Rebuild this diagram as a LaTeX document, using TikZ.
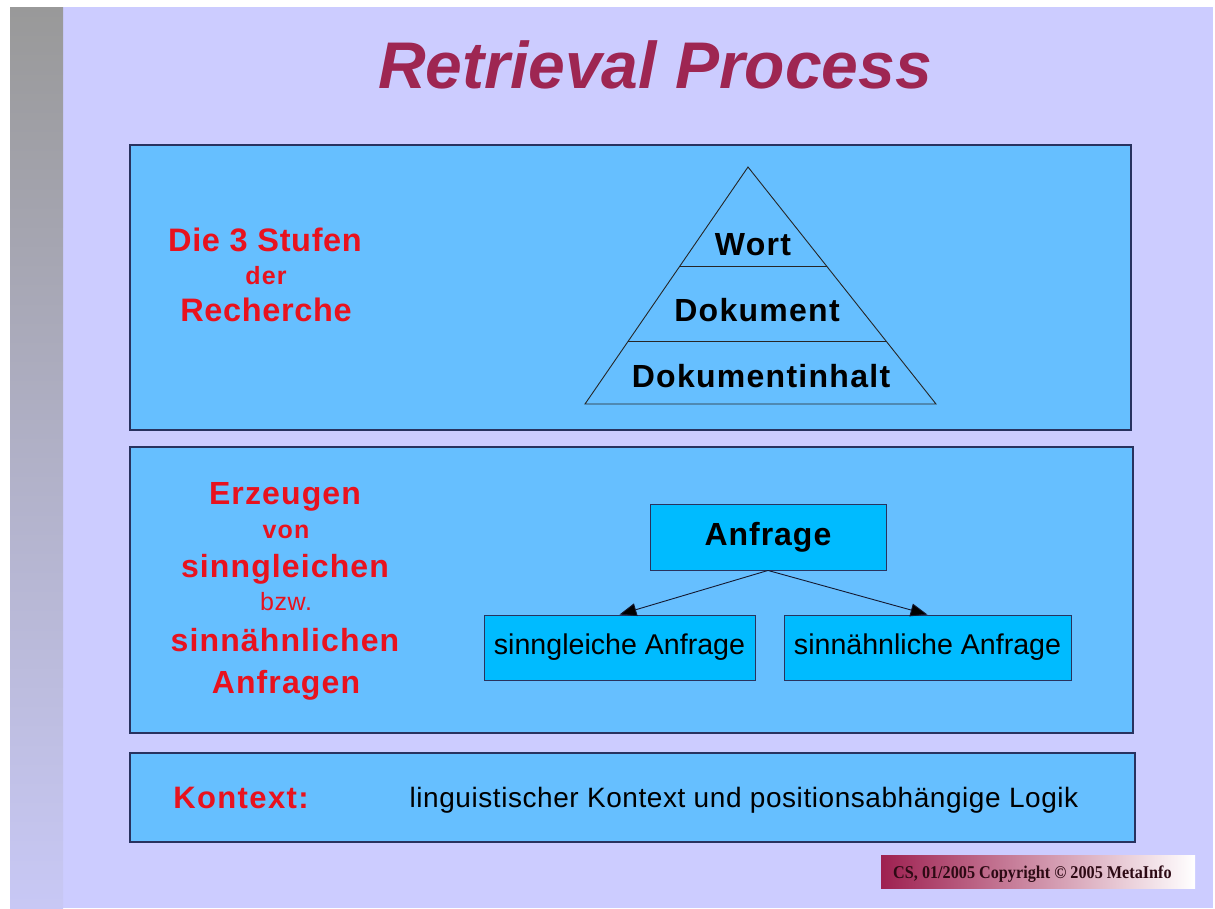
\documentclass[tikz,border=0pt]{standalone}
\usepackage{fontspec}
\setmainfont{Liberation Sans}
\newfontfamily\copyserif[FakeStretch=0.9]{Liberation Serif}
\usetikzlibrary{arrows.meta,calc}

\definecolor{slidebg}{RGB}{204,204,255}
\definecolor{barTop}{RGB}{153,153,153}
\definecolor{barBot}{RGB}{200,200,245}
\definecolor{panelfill}{RGB}{102,191,255}
\definecolor{boxfill}{RGB}{0,187,255}
\definecolor{panelline}{RGB}{40,50,95}
\definecolor{labelred}{RGB}{232,18,30}
\definecolor{titlered}{RGB}{158,38,82}
\definecolor{copyred}{RGB}{158,32,80}
\definecolor{copytext}{RGB}{45,10,20}

% tracked text: size, letter spacing
\newcommand{\trk}[2]{\fontsize{#1}{#1}\selectfont\addfontfeature{LetterSpace=#2}}

\tikzset{
  panel/.style={draw=panelline, fill=panelfill, line width=1.1pt},
  qbox/.style={draw=panelline, fill=boxfill, line width=0.9pt, inner sep=0pt},
  txt/.style={inner sep=0pt, anchor=base},
  redhead/.style={txt, text=labelred, font=\bfseries\trk{32.5}{2}},
  redbig/.style={txt, text=labelred, font=\bfseries\trk{32}{3.5}},
  redsmall/.style={txt, text=labelred, font=\bfseries\trk{25}{5}},
  pyr/.style={txt, font=\bfseries\trk{32}{4}},
  tier/.style={draw=black!85, line width=0.9pt},
  conn/.style={line width=0.9pt, draw=panelline!50!black, -{Triangle[length=17pt,width=13pt,fill=black]}},
}

\begin{document}
\begin{tikzpicture}[x=1pt,y=-1pt]
  % page and background
  \useasboundingbox (0,0) rectangle (1215,908);
  \fill[white] (0,0) rectangle (1215,908);
  \fill[slidebg] (10,7) rectangle (1213,908);
  \shade[top color=barTop, bottom color=barBot] (10,7) rectangle (63,908);

  % title
  \node[txt, text=titlered, font=\bfseries\itshape\fontsize{66}{66}\selectfont]
    (title) at (655,88) {Retrieval Process};

  % panels
  \draw[panel] (130,145) rectangle (1131,430);
  \draw[panel] (130,447) rectangle (1133,733);
  \draw[panel] (130,753) rectangle (1135,842);

  % panel 1: stages of search
  \node[redhead]  (s1) at (265,251) {Die 3 Stufen};
  \node[redsmall] (s2) at (266,284) {der};
  \node[redhead]  (s3) at (266,321) {Recherche};

  \coordinate (apex) at (748,167);
  \coordinate (bl) at (585,404);
  \coordinate (br) at (936,404);
  \draw[tier] (apex) -- (bl) -- (br) -- cycle;
  \draw[tier] ($(apex)!0.418!(bl)$) coordinate (l1a) -- ($(apex)!0.418!(br)$) coordinate (l1b);
  \draw[tier] ($(apex)!0.734!(bl)$) coordinate (l2a) -- ($(apex)!0.734!(br)$) coordinate (l2b);
  \node[pyr] (wort) at (753,255) {Wort};
  \node[pyr] (dok)  at (757,321) {Dokument};
  \node[pyr] (inh)  at (761,387) {Dokumentinhalt};

  % panel 2: query generation
  \node[redbig]   (e1) at (285,504) {Erzeugen};
  \node[redsmall] (e2) at (286,538) {von};
  \node[redbig]   (e3) at (285,577) {sinngleichen};
  \node[txt, text=labelred, font=\trk{25}{2.6}] (e4) at (286,610) {bzw.};
  \node[redbig]   (e5) at (285,651) {sinnähnlichen};
  \node[redbig]   (e6) at (286,693) {Anfragen};

  \node[qbox, minimum width=236pt, minimum height=66pt,
        font=\bfseries\trk{32}{3}]
    (anf) at (768,537) {Anfrage};
  \node[qbox, minimum width=271pt, minimum height=65pt,
        font=\fontsize{28.6}{28.6}\selectfont]
    (sg) at (619.5,647.5) {sinngleiche Anfrage};
  \node[qbox, minimum width=287pt, minimum height=65pt,
        font=\fontsize{28.6}{28.6}\selectfont]
    (sn) at (927.5,647.5) {sinnähnliche Anfrage};
  \draw[conn] (anf.south) -- (sg.north);
  \draw[conn] (anf.south) -- (sn.north);

  % panel 3: context
  \node[txt, text=labelred, font=\bfseries\trk{31}{4.5}]
    (ktx) at (241,808) {Kontext:};
  \node[txt, font=\trk{28}{2}]
    (ktxt) at (744,807) {linguistischer Kontext und positionsabhängige Logik};

  % copyright tag
  \shade[left color=copyred, right color=white] (881,855) rectangle (1195,888);
  \node[txt, anchor=base west, text=copytext, font=\copyserif\bfseries\fontsize{18}{18}\selectfont]
    (copy) at (893,878) {CS, 01/2005 Copyright © 2005 MetaInfo};
\end{tikzpicture}
\end{document}
